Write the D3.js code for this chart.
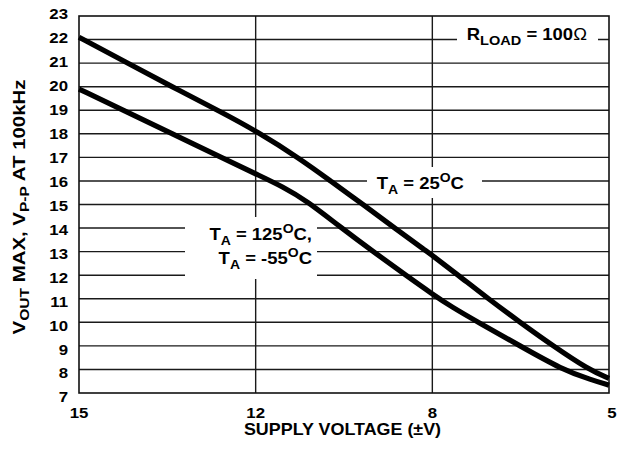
<!DOCTYPE html>
<html>
<head>
<meta charset="utf-8">
<script src="https://cdn.jsdelivr.net/npm/d3@7"></script>
<style>
  html, body { margin: 0; padding: 0; background: #fff; }
  svg { display: block; }
  text { font-family: "Liberation Sans", Arial, Helvetica, sans-serif; font-weight: bold; fill: #000; }
</style>
</head>
<body>
<svg id="chart" width="618" height="449"></svg>
<script>
// ---- data ----
const xTicks = [15, 12, 8, 5];
const yTicks = [7, 8, 9, 10, 11, 12, 13, 14, 15, 16, 17, 18, 19, 20, 21, 22, 23];
const xGrid = [12, 8];
const yGrid = [8, 9, 10, 11, 12, 13, 14, 15, 16, 17, 18, 19, 20, 21, 22];

// T_A = 25°C
const supply25 = [15, 14.22, 13.42, 12.57, 12, 11.0, 10.27, 9.57, 8.85, 8.12, 8, 7.56, 7.05, 6.51, 5.95, 5.35, 5];
const vout25   = [22.1, 21.06, 20.0, 18.9, 18.13, 16.95, 15.95, 15.0, 14.0, 13.0, 12.84, 12.0, 11.0, 10.0, 9.0, 8.0, 7.62];

// T_A = 125°C, T_A = -55°C
const supplyHL = [15, 14.22, 13.42, 12.52, 12, 11.38, 10.84, 10.09, 9.34, 8.6, 8, 7.67, 7.22, 6.51, 5.8, 5.29, 5];
const voutHL   = [19.9, 18.97, 18.0, 16.93, 16.3, 15.75, 15.15, 14.05, 13.0, 12.0, 11.2, 10.65, 10.0, 9.0, 8.0, 7.55, 7.33];

// ---- layout ----
const svg = d3.select("#chart");
const m = { left: 79, top: 16, right: 9, bottom: 56 };
const W = 618 - m.left - m.right;   // 530
const H = 449 - m.top - m.bottom;   // 377
const SX = 1.12; // horizontal stretch of the reference lettering

// piecewise scale: ticks 15,12,8,5 equally spaced
const x = d3.scaleLinear().domain(xTicks).range([0, W / 3, 2 * W / 3, W]);
const y = d3.scaleLinear().domain([7, 23]).range([H, 0]);
const yLab = d3.scaleLinear().domain([7, 23]).range([H + 4, -2.2]);

const g = svg.append("g").attr("transform", `translate(${m.left},${m.top})`);

// grid
g.append("g").selectAll("line").data(yGrid).join("line")
  .attr("x1", 0).attr("x2", W)
  .attr("y1", d => y(d)).attr("y2", d => y(d))
  .attr("stroke", "#1a1a1a").attr("stroke-width", 1.4);
g.append("g").selectAll("line").data(xGrid).join("line")
  .attr("x1", d => x(d)).attr("x2", d => x(d))
  .attr("y1", 0).attr("y2", H)
  .attr("stroke", "#1a1a1a").attr("stroke-width", 1.4);

// white label boxes (hide grid behind labels)
const boxes = [
  { x: 457, y: 27, w: 141, h: 22 },
  { x: 367, y: 167, w: 115, h: 31 },
  { x: 185, y: 217, w: 132, h: 62 }
];
svg.append("g").selectAll("rect").data(boxes).join("rect")
  .attr("x", d => d.x).attr("y", d => d.y).attr("width", d => d.w).attr("height", d => d.h)
  .attr("fill", "#fff");

// border
g.append("rect").attr("x", 0).attr("y", 0).attr("width", W).attr("height", H)
  .attr("fill", "none").attr("stroke", "#111").attr("stroke-width", 1.6);

// curves
const line = d3.line().x(d => x(d[0])).y(d => y(d[1])).curve(d3.curveBasis);
const series = [
  d3.zip(supply25, vout25),
  d3.zip(supplyHL, voutHL)
];
g.append("g").selectAll("path").data(series).join("path")
  .attr("d", line)
  .attr("fill", "none").attr("stroke", "#000").attr("stroke-width", 5.2)
  .attr("stroke-linejoin", "round").attr("stroke-linecap", "butt");

// helper for stretched text
function stext(parent, px, py, anchor, size, rot) {
  const t = parent.append("text")
    .attr("transform", `translate(${px},${py})` + (rot ? ` rotate(${rot})` : "") + ` scale(${SX},1)`)
    .attr("text-anchor", anchor)
    .style("font-size", size + "px");
  return t;
}

// y tick labels
yTicks.forEach(v => {
  stext(g, -11, yLab(v), "end", 15).attr("dy", "0.36em").text(v);
});
// x tick labels
xTicks.forEach(v => {
  stext(g, x(v) + (v === 5 ? 3 : 0), H + 25, "middle", 15).text(v);
});

// axis titles
stext(svg, 342.5, 435, "middle", 16).text("SUPPLY VOLTAGE (\u00B1V)");
{
  const t = svg.append("text")
    .attr("transform", `translate(25,207) rotate(-90) scale(1.2,1)`)
    .attr("text-anchor", "middle").style("font-size", "17px");
  t.append("tspan").text("V");
  t.append("tspan").attr("dy", 4).style("font-size", "13px").text("OUT");
  t.append("tspan").attr("dy", -4).text(" MAX, V");
  t.append("tspan").attr("dy", 4).style("font-size", "13px").text("P-P");
  t.append("tspan").attr("dy", -4).text(" AT 100kHz");
}

// annotations
function tempLabel(px, py, anchor, val, tail) {
  const t = stext(svg, px, py, anchor, 16.5);
  t.append("tspan").text("T");
  t.append("tspan").attr("dy", 5).style("font-size", "12.5px").text("A");
  t.append("tspan").attr("dy", -5).text(" = " + val);
  t.append("tspan").attr("dy", -7).style("font-size", "12.5px").text("O");
  t.append("tspan").attr("dy", 7).text("C" + tail);
  return t;
}
tempLabel(376.7, 188.5, "start", "25", "");
tempLabel(312, 240, "end", "125", ",");
tempLabel(312, 263.5, "end", "-55", "");

{
  const t = stext(svg, 466.7, 40, "start", 16.5);
  t.append("tspan").text("R");
  t.append("tspan").attr("dy", 5).style("font-size", "13px").text("LOAD");
  t.append("tspan").attr("dy", -5).text(" = 100");
  t.append("tspan").style("font-weight", "normal").text("\u03A9");
}
</script>
</body>
</html>
